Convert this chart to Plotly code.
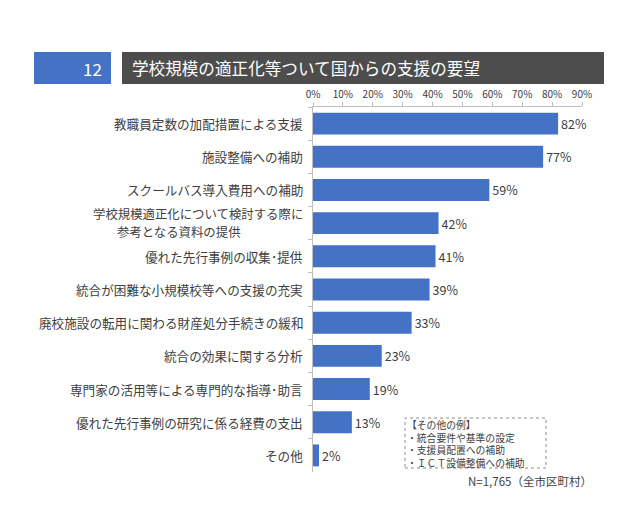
import plotly.graph_objects as go

BAR     = "#4472C4"
HEAD    = "#4D4D4D"
TEXT    = "#404040"
AXIS    = "#BFBFBF"
FONT    = "Noto Sans CJK JP"

categories = [
    "教職員定数の加配措置による支援",
    "施設整備への補助",
    "スクールバス導入費用への補助",
    "学校規模適正化について検討する際に<br>参考となる資料の提供",
    "優れた先行事例の収集･提供",
    "統合が困難な小規模校等への支援の充実",
    "廃校施設の転用に関わる財産処分手続きの緩和",
    "統合の効果に関する分析",
    "専門家の活用等による専門的な指導･助言",
    "優れた先行事例の研究に係る経費の支出",
    "その他",
]
values = [82, 77, 59, 42, 41, 39, 33, 23, 19, 13, 2]
tick_vals = [0, 10, 20, 30, 40, 50, 60, 70, 80, 90]
tick_text = [f"{v}%" for v in tick_vals]

title_no = "12"
title_text = "学校規模の適正化等ついて国からの支援の要望"
note_lines = ["【その他の例】", "・統合要件や基準の設定", "・支援員配置への補助", "・ＩＣＴ設備整備への補助"]
n_text = "N=1,765（全市区町村）"

# page has an 8px body margin, so work in window pixels and shift
OFF = 8
W, H = 640 - OFF, 514 - OFF
PL, PR, PT, PB = 313 - OFF, 582 - OFF, 107 - OFF, 472 - OFF


def px(x):
    return (x - OFF - PL) / (PR - PL)


def py(y):
    return (PB - (y - OFF)) / (PB - PT)


fig = go.Figure()
fig.add_trace(go.Bar(
    x=values, y=categories, orientation="h",
    marker=dict(color=BAR, line=dict(width=0)),
    width=0.66,
    text=[f"{v}%" for v in values], textposition="outside",
    textfont=dict(size=12.5, color=TEXT, family=FONT),
    cliponaxis=False,
))

# category labels; the two-line one has its second line set in from the left
for c in categories:
    lines = c.split("<br>")
    if len(lines) == 1:
        fig.add_annotation(
            x=0, y=c, xref="x", yref="y", text=c, showarrow=False,
            xanchor="right", xshift=-9, borderpad=0,
            font=dict(size=12.6, color=TEXT, family=FONT),
        )
    else:
        fig.add_annotation(
            x=0, y=c, xref="x", yref="y", text=lines[0], showarrow=False,
            xanchor="right", xshift=-9, yshift=9.2, borderpad=0,
            font=dict(size=12.4, color=TEXT, family=FONT),
        )
        fig.add_annotation(
            x=0, y=c, xref="x", yref="y", text=lines[1], showarrow=False,
            xanchor="right", xshift=-71, yshift=-9.2, borderpad=0,
            font=dict(size=12.4, color=TEXT, family=FONT),
        )

# header boxes
fig.add_shape(type="rect", xref="paper", yref="paper",
              x0=px(34), x1=px(111), y0=py(84), y1=py(52),
              fillcolor=BAR, line=dict(width=0))
fig.add_shape(type="rect", xref="paper", yref="paper",
              x0=px(122), x1=px(604), y0=py(84), y1=py(52),
              fillcolor=HEAD, line=dict(width=0))
fig.add_annotation(x=px(104), y=py(68), xref="paper", yref="paper",
                   text=title_no, showarrow=False, xanchor="right",
                   yanchor="middle",
                   font=dict(size=17, color="white", family=FONT))
fig.add_annotation(x=px(130), y=py(68), xref="paper", yref="paper",
                   text=title_text, showarrow=False, xanchor="left",
                   yanchor="middle",
                   font=dict(size=16.6, color="white", family=FONT))

# note box
fig.add_shape(type="rect", xref="paper", yref="paper",
              x0=px(405), x1=px(546), y0=py(468), y1=py(418),
              fillcolor="white", line=dict(color="#8C8C8C", width=1, dash="dot"))
fig.add_annotation(x=px(406), y=py(444), xref="paper", yref="paper",
                   text="<br>".join(note_lines), showarrow=False,
                   xanchor="left", yanchor="middle", align="left",
                   borderpad=0,
                   font=dict(size=9.8, color=TEXT, family=FONT))
fig.add_annotation(x=px(594), y=py(481), xref="paper", yref="paper",
                   text=n_text, showarrow=False, xanchor="right",
                   yanchor="middle",
                   font=dict(size=11.5, color=TEXT, family=FONT))

fig.update_layout(
    width=W, height=H,
    paper_bgcolor="white", plot_bgcolor="white",
    margin=dict(l=PL, r=W - PR, t=PT, b=H - PB, pad=0),
    showlegend=False,
    bargap=0.34,
    font=dict(family=FONT, color=TEXT),
    xaxis=dict(
        side="top", range=[0, 90], tickvals=tick_vals, ticktext=tick_text,
        showgrid=False, zeroline=False, showline=True, linecolor=AXIS,
        ticks="outside", ticklen=4, tickcolor=AXIS,
        tickfont=dict(size=10, color=TEXT, family=FONT),
        fixedrange=True,
    ),
    yaxis=dict(
        autorange="reversed", showticklabels=False, showgrid=False,
        showline=True, linecolor=AXIS, ticks="outside", ticklen=4,
        tickcolor=AXIS, tickson="boundaries", fixedrange=True,
    ),
)

fig.write_html("out.html")
